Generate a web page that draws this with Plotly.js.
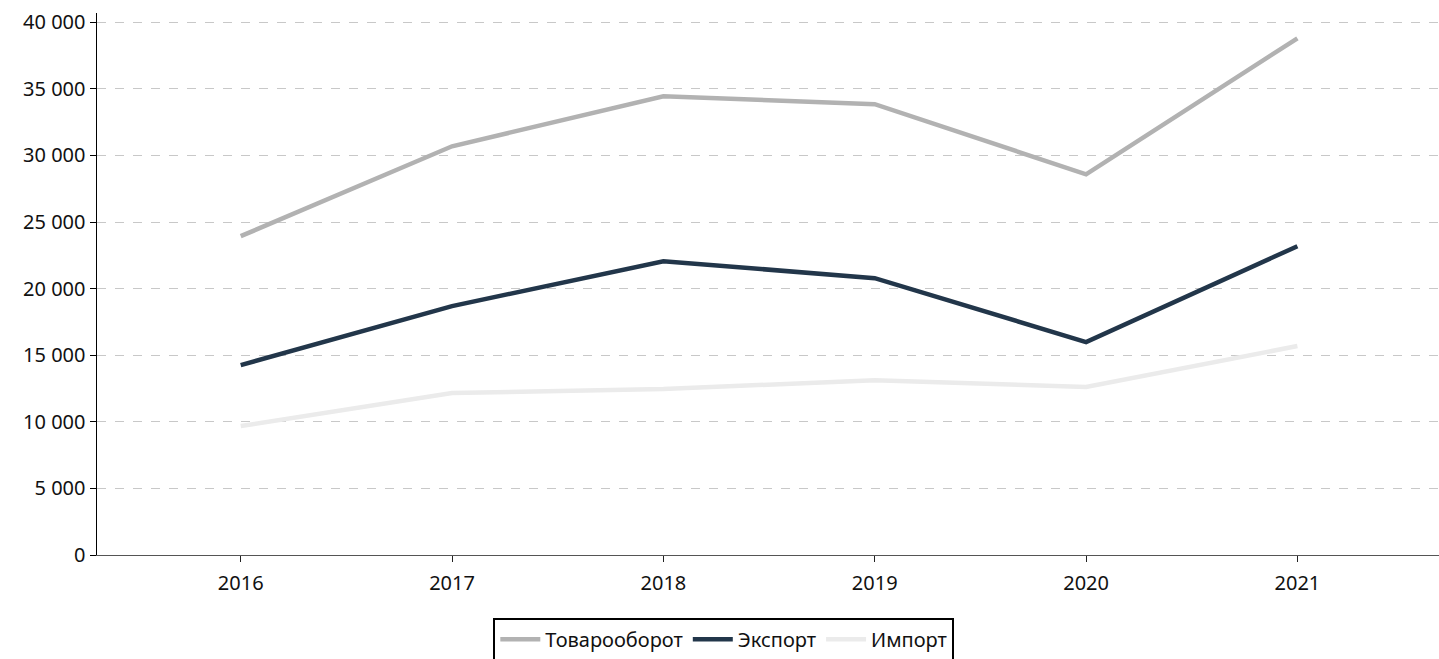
<!DOCTYPE html>
<html>
<head>
<meta charset="utf-8">
<script src="https://cdn.plot.ly/plotly-3.0.1.min.js"></script>
<style>html,body{margin:0;padding:0;background:#fff;}#chart{width:1439px;height:659px;}</style>
</head>
<body>
<div id="chart"></div>
<script>
const years = ['2016', '2017', '2018', '2019', '2020', '2021'];
const turnover = [23940, 30690, 34450, 33850, 28590, 38800];
const exportVals = [14260, 18690, 22060, 20790, 15990, 23190];
const importVals = [9680, 12160, 12460, 13130, 12610, 15690];
const seriesNames = ['Товарооборот', 'Экспорт', 'Импорт'];
const yTicks = [0, 5000, 10000, 15000, 20000, 25000, 30000, 35000, 40000];
const yTickLabels = ['0', '5 000', '10 000', '15 000', '20 000', '25 000', '30 000', '35 000', '40 000'];

const font = {family: '"Noto Sans", Roboto, sans-serif', size: 20, color: '#111'};
const mk = (y, name, color) => ({
  x: years, y: y, name: name, type: 'scatter', mode: 'lines',
  line: {color: color, width: 4.5}, hoverinfo: 'skip'
});
const data = [
  mk(turnover, seriesNames[0], '#b2b2b2'),
  mk(exportVals, seriesNames[1], '#22364a'),
  mk(importVals, seriesNames[2], '#ebebeb')
];
const layout = {
  width: 1439, height: 659,
  margin: {l: 97, r: 0, t: 13, b: 104},
  paper_bgcolor: '#fff', plot_bgcolor: '#fff',
  font: font,
  showlegend: true,
  legend: {
    orientation: 'h', xref: 'container', yref: 'container',
    x: 0.503, xanchor: 'center', y: 0.0625, yanchor: 'top',
    bordercolor: '#000', borderwidth: 2, bgcolor: '#fff',
    font: {family: font.family, size: 20, color: '#111'},
    itemwidth: 40, tracegroupgap: 0
  },
  xaxis: {
    type: 'category', range: [-0.68, 5.67],
    showgrid: false, zeroline: false,
    showline: true, linecolor: '#555', linewidth: 1,
    ticks: 'outside', ticklen: 6, tickcolor: '#222',
    ticklabelstandoff: 4,
    tickfont: {family: font.family, size: 20, color: '#111'},
    fixedrange: true
  },
  yaxis: {
    range: [0, 40700],
    tickvals: yTicks, ticktext: yTickLabels,
    showgrid: true, gridcolor: '#c8c8c8', griddash: 'dash', gridwidth: 1,
    zeroline: false,
    showline: true, linecolor: '#000', linewidth: 1.5,
    ticks: 'outside', ticklen: 6, tickcolor: '#000',
    tickfont: {family: font.family, size: 20, color: '#111'},
    fixedrange: true
  }
};
Plotly.newPlot('chart', data, layout, {displayModeBar: false, staticPlot: true});
</script>
</body>
</html>
